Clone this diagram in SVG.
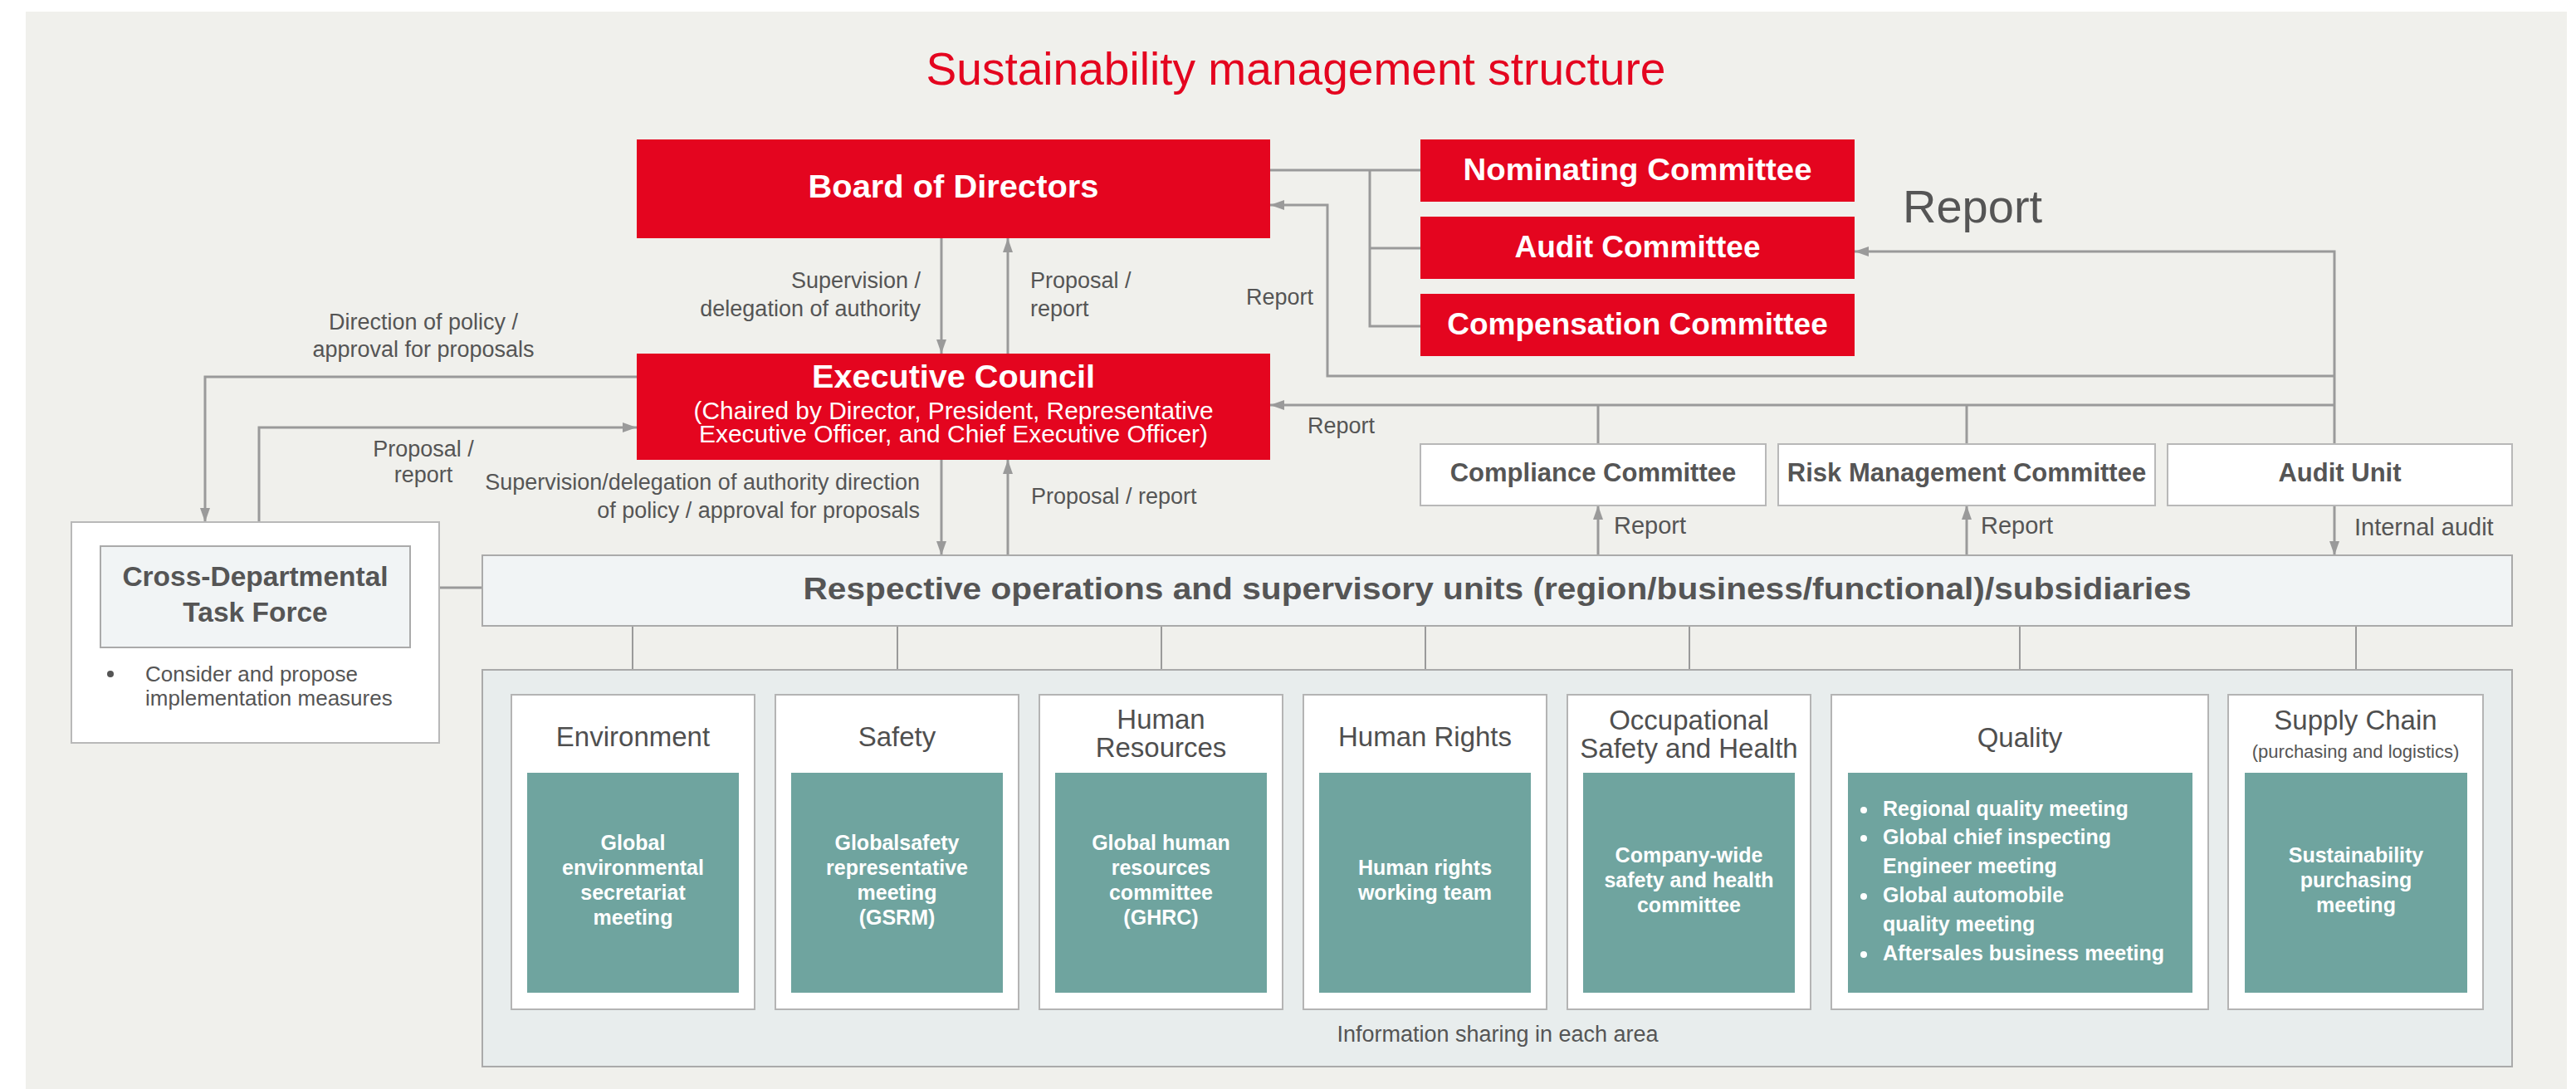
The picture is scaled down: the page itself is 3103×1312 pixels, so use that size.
<svg xmlns="http://www.w3.org/2000/svg" width="3103" height="1312" viewBox="0 0 3103 1312">
<style>
text{font-family:"Liberation Sans",Arial,sans-serif}
.red{fill:#e4051f}
.wb{fill:#fff;font-weight:bold}
.w{fill:#fff}
.g{fill:#555}
.gb{fill:#555;font-weight:bold}
.ln{fill:none;stroke:#9a9a9a;stroke-width:3}
.ln2{fill:none;stroke:#9a9a9a;stroke-width:2}
.box{fill:#fff;stroke:#b8b8b8;stroke-width:2}
.cat{fill:#fff;stroke:#b4b4b4;stroke-width:2}
.teal{fill:#6fa49f}
.mid{text-anchor:middle}
.end{text-anchor:end}
.lbl{font-size:27px;fill:#555}
.lbl2{font-size:29px;fill:#555}
.ct{font-size:33px;fill:#4f4f4f}
.tt{font-size:25px;fill:#fff;font-weight:bold}
</style>
<defs>
<marker id="ah" markerUnits="userSpaceOnUse" markerWidth="17" markerHeight="12" refX="17" refY="6" orient="auto">
<path d="M0,0 L17,6 L0,12 Z" fill="#9a9a9a"/>
</marker>
</defs>
<rect x="0" y="0" width="3103" height="1312" fill="#ffffff"/>
<rect x="31" y="14" width="3061" height="1298" fill="#f0f0ec"/>
<text x="1561" y="102" class="mid" font-size="55" fill="#e4051f" textLength="891" lengthAdjust="spacingAndGlyphs">Sustainability management structure</text>

<g id="connectors">
<line class="ln" x1="1134" y1="287" x2="1134" y2="426" marker-end="url(#ah)"/>
<line class="ln" x1="1214" y1="426" x2="1214" y2="287" marker-end="url(#ah)"/>
<polyline class="ln" points="1530,205 1711,205"/>
<polyline class="ln" points="1650,205 1650,393 1711,393"/>
<polyline class="ln" points="1650,299 1711,299"/>
<polyline class="ln" points="2812,453 1599,453 1599,247 1530,247" marker-end="url(#ah)"/>
<polyline class="ln" points="2812,535 2812,303 2234,303" marker-end="url(#ah)"/>
<polyline class="ln" points="2812,488 1530,488" marker-end="url(#ah)"/>
<line class="ln" x1="1925" y1="488" x2="1925" y2="535"/>
<line class="ln" x1="2369" y1="488" x2="2369" y2="535"/>
<line class="ln" x1="1134" y1="554" x2="1134" y2="669" marker-end="url(#ah)"/>
<line class="ln" x1="1214" y1="669" x2="1214" y2="554" marker-end="url(#ah)"/>
<polyline class="ln" points="767,454 247,454 247,629" marker-end="url(#ah)"/>
<polyline class="ln" points="312,629 312,515 767,515" marker-end="url(#ah)"/>
<line class="ln" x1="529" y1="708" x2="581" y2="708"/>
<line class="ln" x1="1925" y1="669" x2="1925" y2="609" marker-end="url(#ah)"/>
<line class="ln" x1="2369" y1="669" x2="2369" y2="609" marker-end="url(#ah)"/>
<line class="ln" x1="2812" y1="609" x2="2812" y2="669" marker-end="url(#ah)"/>
<line class="ln2" x1="762" y1="754" x2="762" y2="837"/>
<line class="ln2" x1="1081" y1="754" x2="1081" y2="837"/>
<line class="ln2" x1="1399" y1="754" x2="1399" y2="837"/>
<line class="ln2" x1="1717" y1="754" x2="1717" y2="837"/>
<line class="ln2" x1="2035" y1="754" x2="2035" y2="837"/>
<line class="ln2" x1="2433" y1="754" x2="2433" y2="837"/>
<line class="ln2" x1="2838" y1="754" x2="2838" y2="837"/>
</g>

<g id="labels">
<text class="lbl end" x="1109" y="347">Supervision /</text>
<text class="lbl end" x="1109" y="381">delegation of authority</text>
<text class="lbl" x="1241" y="347">Proposal /</text>
<text class="lbl" x="1241" y="381">report</text>
<text class="lbl" x="1501" y="367">Report</text>
<text x="2292" y="268" font-size="56" fill="#555">Report</text>
<text class="lbl mid" x="510" y="397">Direction of policy /</text>
<text class="lbl mid" x="510" y="430">approval for proposals</text>
<text class="lbl mid" x="510" y="550">Proposal /</text>
<text class="lbl mid" x="510" y="581">report</text>
<text class="lbl end" x="1108" y="590">Supervision/delegation of authority direction</text>
<text class="lbl end" x="1108" y="624">of policy / approval for proposals</text>
<text class="lbl" x="1242" y="607">Proposal / report</text>
<text class="lbl" x="1575" y="522">Report</text>
<text class="lbl2" x="1944" y="643">Report</text>
<text class="lbl2" x="2386" y="643">Report</text>
<text class="lbl2" x="2836" y="645">Internal audit</text>
</g>

<g id="board">
<rect class="red" x="767" y="168" width="763" height="119"/>
<text class="wb mid" x="1148.5" y="238" font-size="38" textLength="350" lengthAdjust="spacingAndGlyphs">Board of Directors</text>
</g>
<g id="nominating">
<rect class="red" x="1711" y="168" width="523" height="75"/>
<text class="wb mid" x="1972.5" y="217" font-size="37" textLength="420" lengthAdjust="spacingAndGlyphs">Nominating Committee</text>
</g>
<g id="audit-committee">
<rect class="red" x="1711" y="261" width="523" height="75"/>
<text class="wb mid" x="1972.5" y="310" font-size="37">Audit Committee</text>
</g>
<g id="compensation">
<rect class="red" x="1711" y="354" width="523" height="75"/>
<text class="wb mid" x="1972.5" y="403" font-size="37">Compensation Committee</text>
</g>
<g id="executive-council">
<rect class="red" x="767" y="426" width="763" height="128"/>
<text class="wb mid" x="1148.5" y="467" font-size="38" textLength="341" lengthAdjust="spacingAndGlyphs">Executive Council</text>
<text class="w mid" x="1148.5" y="505" font-size="29" textLength="626" lengthAdjust="spacingAndGlyphs">(Chaired by Director, President, Representative</text>
<text class="w mid" x="1148.5" y="533" font-size="29" textLength="613" lengthAdjust="spacingAndGlyphs">Executive Officer, and Chief Executive Officer)</text>
</g>
<g id="compliance">
<rect class="box" x="1711" y="535" width="416" height="74"/>
<text class="gb mid" x="1919" y="580" font-size="31">Compliance Committee</text>
</g>
<g id="risk">
<rect class="box" x="2142" y="535" width="454" height="74"/>
<text class="gb mid" x="2369" y="580" font-size="31">Risk Management Committee</text>
</g>
<g id="audit-unit">
<rect class="box" x="2611" y="535" width="415" height="74"/>
<text class="gb mid" x="2818.5" y="580" font-size="31">Audit Unit</text>
</g>
<g id="respective">
<rect x="581" y="669" width="2445" height="85" fill="#f1f4f5" stroke="#aaaaaa" stroke-width="2"/>
<text class="gb mid" x="1803.5" y="722" font-size="37" textLength="1672" lengthAdjust="spacingAndGlyphs">Respective operations and supervisory units (region/business/functional)/subsidiaries</text>
</g>
<g id="cross-departmental">
<rect class="box" x="86" y="629" width="443" height="266" stroke="#aaaaaa"/>
<rect x="121" y="658" width="373" height="122" fill="#f1f4f5" stroke="#aaaaaa" stroke-width="2"/>
<text class="gb mid" x="307.5" y="706" font-size="33.5">Cross-Departmental</text>
<text class="gb mid" x="307.5" y="749" font-size="33.5">Task Force</text>
<circle cx="133" cy="812" r="4" fill="#555"/>
<text class="g" x="175" y="821" font-size="26">Consider and propose</text>
<text class="g" x="175" y="850" font-size="26">implementation measures</text>
</g>

<g id="area-container">
<rect x="581" y="807" width="2445" height="478" fill="#e8eded" stroke="#aaaaaa" stroke-width="2"/>
<text class="g mid" x="1804" y="1255" font-size="27">Information sharing in each area</text>
</g>

<g id="environment">
<rect class="cat" x="616" y="837" width="293" height="379"/>
<text class="ct mid" x="762.5" y="899">Environment</text>
<rect class="teal" x="635" y="931" width="255" height="265"/>
<text class="tt mid" x="762.5" y="1024">Global</text>
<text class="tt mid" x="762.5" y="1054">environmental</text>
<text class="tt mid" x="762.5" y="1084">secretariat</text>
<text class="tt mid" x="762.5" y="1114">meeting</text>
</g>
<g id="safety">
<rect class="cat" x="934" y="837" width="293" height="379"/>
<text class="ct mid" x="1080.5" y="899">Safety</text>
<rect class="teal" x="953" y="931" width="255" height="265"/>
<text class="tt mid" x="1080.5" y="1024">Globalsafety</text>
<text class="tt mid" x="1080.5" y="1054">representative</text>
<text class="tt mid" x="1080.5" y="1084">meeting</text>
<text class="tt mid" x="1080.5" y="1114">(GSRM)</text>
</g>
<g id="human-resources">
<rect class="cat" x="1252" y="837" width="293" height="379"/>
<text class="ct mid" x="1398.5" y="878">Human</text>
<text class="ct mid" x="1398.5" y="912">Resources</text>
<rect class="teal" x="1271" y="931" width="255" height="265"/>
<text class="tt mid" x="1398.5" y="1024">Global human</text>
<text class="tt mid" x="1398.5" y="1054">resources</text>
<text class="tt mid" x="1398.5" y="1084">committee</text>
<text class="tt mid" x="1398.5" y="1114">(GHRC)</text>
</g>
<g id="human-rights">
<rect class="cat" x="1570" y="837" width="293" height="379"/>
<text class="ct mid" x="1716.5" y="899">Human Rights</text>
<rect class="teal" x="1589" y="931" width="255" height="265"/>
<text class="tt mid" x="1716.5" y="1054">Human rights</text>
<text class="tt mid" x="1716.5" y="1084">working team</text>
</g>
<g id="occupational">
<rect class="cat" x="1888" y="837" width="293" height="379"/>
<text class="ct mid" x="2034.5" y="879" font-size="31">Occupational</text>
<text class="ct mid" x="2034.5" y="913" font-size="31">Safety and Health</text>
<rect class="teal" x="1907" y="931" width="255" height="265"/>
<text class="tt mid" x="2034.5" y="1039">Company-wide</text>
<text class="tt mid" x="2034.5" y="1069">safety and health</text>
<text class="tt mid" x="2034.5" y="1099">committee</text>
</g>
<g id="quality">
<rect class="cat" x="2206" y="837" width="454" height="379"/>
<text class="ct mid" x="2433" y="900">Quality</text>
<rect class="teal" x="2226" y="931" width="415" height="265"/>
<circle cx="2245" cy="976" r="4" fill="#fff"/>
<text class="tt" x="2268" y="983">Regional quality meeting</text>
<circle cx="2245" cy="1010" r="4" fill="#fff"/>
<text class="tt" x="2268" y="1017">Global chief inspecting</text>
<text class="tt" x="2268" y="1052">Engineer meeting</text>
<circle cx="2245" cy="1080" r="4" fill="#fff"/>
<text class="tt" x="2268" y="1087">Global automobile</text>
<text class="tt" x="2268" y="1122">quality meeting</text>
<circle cx="2245" cy="1150" r="4" fill="#fff"/>
<text class="tt" x="2268" y="1157">Aftersales business meeting</text>
</g>
<g id="supply-chain">
<rect class="cat" x="2684" y="837" width="307" height="379"/>
<text class="ct mid" x="2837.5" y="879">Supply Chain</text>
<text class="g mid" x="2837.5" y="913" font-size="22">(purchasing and logistics)</text>
<rect class="teal" x="2704" y="931" width="268" height="265"/>
<text class="tt mid" x="2838" y="1039">Sustainability</text>
<text class="tt mid" x="2838" y="1069">purchasing</text>
<text class="tt mid" x="2838" y="1099">meeting</text>
</g>
</svg>
